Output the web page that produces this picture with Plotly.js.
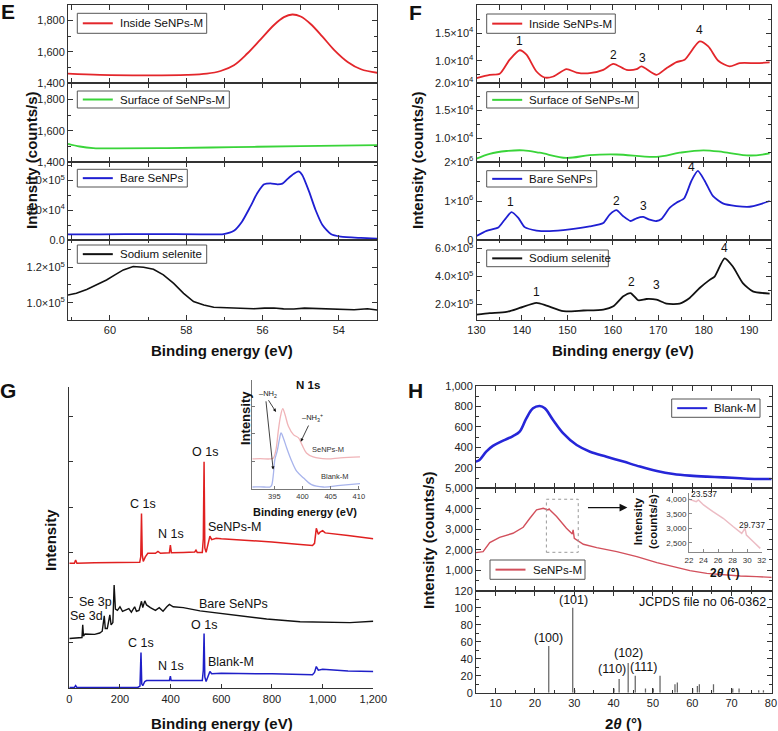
<!DOCTYPE html>
<html><head><meta charset="utf-8">
<script src="https://cdn.plot.ly/plotly-3.0.1.min.js"></script>
<style>html,body{margin:0;padding:0;background:#fff}#chart{width:778px;height:731px}</style>
</head><body><div id="chart"></div>
<script>
// ---------- Panel E (Se 3d) ----------
const eInsideX = [61.1,60.26,58.95,57.98,57.46,57.1,56.75,56.4,56.05,55.7,55.44,55.22,55.0,54.74,54.43,54.12,53.77,53.42,52.98];
const eInsideY = [1460,1452,1449,1452,1460,1477,1514,1589,1680,1772,1822,1839,1826,1778,1697,1611,1535,1488,1465];
const eSurfX = [61.1,60.79,60.44,59.82,58.51,56.75,55.0,52.98];
const eSurfY = [1516,1499,1489,1487,1489,1495,1502,1508];
const eBareX = [61.1,60.26,58.95,57.63,57.02,56.75,56.54,56.32,56.14,55.96,55.79,55.61,55.48,55.35,55.18,55.06,54.96,54.78,54.61,54.43,54.21,53.95,53.42,52.98];
const eBareY = [9500,9500,10000,9500,10000,15600,30700,55900,78200,93300,95000,93300,94400,102000,111000,115000,109000,81000,50300,25100,10000,5600,3400,2200];
const eSodX = [61.1,60.88,60.61,60.35,60.09,59.87,59.65,59.39,59.12,58.86,58.6,58.33,58.07,57.81,57.54,57.28,57.0,56.75,56.5,56.23,55.95,55.7,55.45,55.18,54.9,54.65,54.4,54.12,53.85,53.6,53.25,52.98];
const eSodY = [104300,105300,107500,110000,112800,115700,118500,120400,120000,118900,115700,110900,105300,100600,98700,97400,97200,97000,96800,96600,96900,97000,96500,96400,96900,96800,96300,96200,96500,96000,96600,95800];

// ---------- Panel F (Se 3p) ----------
const fInsideX = [130,132.9,135.1,137.3,139.5,141,143.2,145,146.9,149.8,152,154.9,157.9,160.1,163,165.2,166.3,169.6,171.8,174,175.8,179.1,181,183.2,185.7,187.9,191.6,194.5];
const fInsideY = [6870,7470,7650,10200,11900,11100,8070,6990,7170,8490,7890,7770,8370,9460,8370,8490,8980,7470,8670,9760,10200,13500,12600,10000,8980,9580,9580,9700];
const fSurfX = [130,132.9,136.6,140.3,143.9,149.8,154.9,160.8,169.6,174.7,179.9,184.3,190.1,194.5];
const fSurfY = [6310,7190,7690,7810,7380,6440,6940,7060,6630,7380,7810,7500,6880,7250];
const fBareX = [130,132.2,134.8,136.2,137.7,139.2,140.6,143.2,146.1,150.5,154.9,157.9,159.3,160.8,162.3,163.9,165.2,166.7,168.1,169.6,170.7,172.5,174,175.7,177.3,178.7,180.2,182,184.2,187.2,190.1,192.3,194.5];
const fBareY = [104000,235000,320000,520000,713000,565000,330000,243000,226000,270000,348000,435000,652000,765000,609000,487000,557000,591000,520000,487000,539000,826000,957000,1070000,1520000,1770000,1520000,1130000,939000,870000,852000,913000,1000000];
const fSodX = [130,132.9,136.6,139.5,143.2,145.4,149.1,153.5,157.9,160.1,162.3,163.9,165.6,167.4,169.6,171.8,174.7,176.9,179.1,181.3,182.4,184.6,186.4,188.6,190.8,194.5];
const fSodY = [129000,139000,148000,176000,212000,193000,153000,158000,165000,188000,259000,282000,231000,240000,235000,207000,207000,247000,318000,376000,400000,529000,471000,353000,294000,278000];
const fInsideLblX = [139.5,160.1,166.5,179.1], fInsideLblY = [13500,11000,10500,15500];
const fBareLblX = [137.5,160.8,166.7,177.3], fBareLblY = [980000,1000000,870000,1870000];
const fSodLblX = [143.2,164.1,169.6,184.6], fSodLblY = [287000,358000,339000,600000];
const peakNums = ['1','2','3','4'];

// ---------- Panel G (survey) ----------
const gRedX = [0,20,25,30,100,200,278,282,285,288,292,300,310,340,350,360,395,399,403,450,495,500,505,525,529,532,535,540,548,555,562,580,600,700,800,900,960,968,975,983,990,1000,1010,1100,1200];
const gRedY = [2.76,2.76,2.83,2.76,2.77,2.78,2.78,2.9,3.86,2.95,2.8,2.9,2.98,2.98,3.02,2.98,2.99,3.16,2.99,3.0,3.01,3.05,3.0,3.0,3.3,5.0,3.1,3.0,3.2,3.36,3.28,3.31,3.3,3.27,3.23,3.18,3.15,3.2,3.53,3.4,3.45,3.48,3.43,3.37,3.3];
const gBareX = [0,40,50,53,56,62,100,120,130,138,142,150,155,160,165,172,177,182,190,200,210,220,235,245,258,265,275,285,290,298,305,320,340,355,370,385,395,410,450,516,647,779,911,1042,1108,1200];
const gBareY = [1.10,1.11,1.12,1.40,1.15,1.20,1.19,1.22,1.26,1.60,1.32,1.32,1.45,1.62,1.40,1.45,2.28,1.75,1.72,1.80,1.70,1.72,1.76,1.68,1.80,1.70,1.72,1.92,1.78,1.93,1.84,1.78,1.72,1.78,1.70,1.80,1.85,1.80,1.78,1.71,1.62,1.53,1.47,1.45,1.45,1.48];
const gBlankX = [0,20,25,30,270,279,283,286,290,298,305,395,399,402,525,529,532,535,540,548,555,562,600,800,960,968,975,983,1000,1100,1200];
const gBlankY = [0.02,0.02,0.06,0.02,0.02,0.05,0.79,0.1,0.06,0.15,0.17,0.17,0.27,0.17,0.17,0.4,1.21,0.25,0.15,0.25,0.37,0.32,0.33,0.32,0.3,0.35,0.48,0.4,0.42,0.38,0.37];
// inset N 1s
const nRedX = [391.1,392.5,394.2,394.8,395.3,395.7,396.1,396.5,396.9,397.5,398.4,399.3,399.9,400.7,401.9,404.3,406.7,410.2];
const nRedY = [2.73,2.75,2.73,2.79,3.58,5.24,6.6,7.3,6.76,5.7,4.94,4.64,4.03,3.27,2.91,2.73,2.82,2.91];
const nBlueX = [391.1,392.5,394.2,394.5,394.8,395.1,395.5,395.9,396.2,396.6,397.2,398.1,399.0,400.2,401.6,403.7,406.7,410.2];
const nBlueY = [0.18,0.2,0.18,0.3,1.15,2.67,3.42,4.48,5.09,4.64,3.73,2.52,1.6,1.0,0.39,0.18,0.33,0.48];

// ---------- Panel H (XRD) ----------
const hBlankX = [4.9,5.9,7.6,9.3,11.9,14.4,16.1,17.8,19.5,21.2,22.5,24.6,27.2,30.6,34,38.2,42.5,46.7,51,55.2,59.4,63.7,67.9,72.2,76.4,80.2];
const hBlankY = [261,277,358,414,466,511,554,684,782,804,782,668,537,423,358,309,261,212,169,140,124,114,107,98,91,91];
const hSeX = [4.9,6.8,8.5,11,14.4,17,18.7,20.4,22.1,23.3,23.6,24.0,25.5,28,29.5,29.7,30,32.3,35.7,40.8,45.9,51,55.2,59.4,63.7,67.9,72.2,76.4,80.2];
const hSeY = [1858,1907,2347,2608,2804,3097,3537,3945,4026,3945,3990,3900,3619,3048,2771,2967,2559,2266,2103,1907,1663,1369,1174,978,848,766,717,685,652];
const hZoomX = [22,23.0,23.3,24.0,25.3,26.7,28.1,29.25,29.7,29.9,30.85,31.8];
const hZoomY = [3995,3915,3970,3800,3570,3345,3055,2830,3000,2770,2540,2315];
const jcpdsX = [23.5,29.6,30.1,40.1,41.4,43.7,45.5,48.1,50.1,51.8,55.6,56.2,60.1,61.3,61.8,65.4,70.3,71.9,76.9,78.1];
const jcpdsY = [55,100,3,5,16,35,20,5,5,20,10,12,5,8,10,10,5,5,3,3];
const hklLbl = ['(100)','(101)','(110)','(102)','(111)'];
const hklX = [23.5,29.7,39.7,43.9,47.6];
const hklY = [64.7,109,27.8,47,29.8];

// ---------- helpers ----------
const FONT = "Arial, 'Liberation Sans', sans-serif";
const W = 778, H = 731;
const dx = (a,b) => [a/W, b/W];
const dy = (top,bot) => [1-bot/H, 1-top/H];
const sup = (m,e) => m + '×10<sup>' + e + '</sup>';

const RED = '#e3262b', GREEN = '#39d439', BLUE = '#1f1fd2';

function ln(x,y,xa,ya,color,name,extra){
  return {type:'scatter',mode:'lines',x:x,y:y,xaxis:xa,yaxis:ya,
    line:Object.assign({color:color,width:1.8},extra||{}),name:name||'',showlegend:false,hoverinfo:'skip'};
}
const data = [
  ln(eInsideX,eInsideY,'x','y',RED,'Inside SeNPs-M',{shape:'spline'}),
  ln(eSurfX,eSurfY,'x','y2',GREEN,'Surface of SeNPs-M',{shape:'spline'}),
  ln(eBareX,eBareY,'x','y3',BLUE,'Bare SeNPs',{shape:'spline',smoothing:0.6}),
  ln(eSodX,eSodY,'x','y4','#111','Sodium selenite',{width:1.6}),
  ln(fInsideX,fInsideY,'x2','y5',RED,'Inside SeNPs-M',{shape:'spline',smoothing:0.7}),
  ln(fSurfX,fSurfY,'x2','y6',GREEN,'Surface of SeNPs-M',{shape:'spline'}),
  ln(fBareX,fBareY,'x2','y7',BLUE,'Bare SeNPs',{shape:'spline',smoothing:0.6}),
  ln(fSodX,fSodY,'x2','y8','#111','Sodium selenite',{shape:'spline',smoothing:0.6}),
  ln(gRedX,gRedY,'x3','y9','#e02020','SeNPs-M',{width:1.5}),
  ln(gBareX,gBareY,'x3','y9','#111','Bare SeNPs',{width:1.4}),
  ln(gBlankX,gBlankY,'x3','y9','#1f1fc8','Blank-M',{width:1.5}),
  ln(nRedX,nRedY,'x4','y10','#f0b4b8','SeNPs-M',{width:1.3,shape:'spline'}),
  ln(nBlueX,nBlueY,'x4','y10','#a8b4ec','Blank-M',{width:1.3,shape:'spline'}),
  ln(hBlankX,hBlankY,'x5','y11','#2626d8','Blank-M',{width:2.6,shape:'spline'}),
  ln(hSeX,hSeY,'x5','y12','#d2505c','SeNPs-M',{width:1.4}),
  ln(hZoomX,hZoomY,'x6','y14','#ecbcc4','SeNPs-M',{width:1.5}),
  {type:'bar',x:jcpdsX,y:jcpdsY,xaxis:'x5',yaxis:'y13',width:0.32,marker:{color:'#666',line:{width:0}},showlegend:false,hoverinfo:'skip'}
];

const tf = {family:FONT,size:11,color:'#222'};
const base = {showline:true,linecolor:'#333',linewidth:1,ticks:'inside',ticklen:5,tickcolor:'#333',tickwidth:1,
  showgrid:false,zeroline:false,tickfont:tf,fixedrange:true};
function ax(o){return Object.assign({},base,o);}
const rowE = [dy(5,83),dy(83,162),dy(162,240),dy(240,319.5)];
const rowH = [dy(386,488.3),dy(488.3,590.7),dy(590.7,692.7)];

const layout = {
  width:W,height:H,margin:{l:0,r:0,t:0,b:0},paper_bgcolor:'#fff',plot_bgcolor:'rgba(0,0,0,0)',
  font:{family:FONT,color:'#111'},showlegend:false,separators:'.,',
  // E
  xaxis:ax({domain:dx(68,377),range:[61.1,53.0],anchor:'y4',mirror:'allticks',dtick:2,tick0:0,
    minor:{dtick:1,tick0:0,ticks:'inside',ticklen:3,tickcolor:'#333'}}),
  yaxis:ax({domain:rowE[0],range:[1400,1900],anchor:'x',mirror:'ticks',tickmode:'array',tickvals:[1400,1600,1800],ticktext:['1,400','1,600','1,800'],
    minor:{tickvals:[1500,1700],ticks:'inside',ticklen:3}}),
  yaxis2:ax({domain:rowE[1],range:[1400,1905],anchor:'x',mirror:'ticks',tickmode:'array',tickvals:[1400,1600,1800],ticktext:['1,400','1,600','1,800'],
    minor:{tickvals:[1500,1700],ticks:'inside',ticklen:3}}),
  yaxis3:ax({domain:rowE[2],range:[0,130700],anchor:'x',mirror:'ticks',tickmode:'array',tickvals:[0,50000,100000],ticktext:['0.0',sup('5.0',4),sup('1.0',5)],
    minor:{tickvals:[25000,75000,125000],ticks:'inside',ticklen:3}}),
  yaxis4:ax({domain:rowE[3],range:[90500,135400],anchor:'x',mirror:'ticks',tickmode:'array',tickvals:[100000,120000],ticktext:[sup('1.0',5),sup('1.2',5)],
    minor:{tickvals:[110000,130000],ticks:'inside',ticklen:3}}),
  // F
  xaxis2:ax({domain:dx(476.5,771),range:[130,194.8],anchor:'y8',mirror:'allticks',dtick:10,tick0:0,
    minor:{dtick:5,tick0:0,ticks:'inside',ticklen:3,tickcolor:'#333'}}),
  yaxis5:ax({domain:rowE[0],range:[6000,20050],anchor:'x2',mirror:'ticks',tickmode:'array',tickvals:[10000,15000,20000],ticktext:[sup('1.0',4),sup('1.5',4),sup('2.0',4)],
    minor:{tickvals:[7500,12500,17500],ticks:'inside',ticklen:3}}),
  yaxis6:ax({domain:rowE[1],range:[5700,20000],anchor:'x2',mirror:'ticks',tickmode:'array',tickvals:[10000,15000,20000],ticktext:[sup('1.0',4),sup('1.5',4),sup('2.0',4)],
    minor:{tickvals:[7500,12500,17500],ticks:'inside',ticklen:3}}),
  yaxis7:ax({domain:rowE[2],range:[0,2000000],anchor:'x2',mirror:'ticks',tickmode:'array',tickvals:[0,1000000,2000000],ticktext:['0',sup('1',6),sup('2',6)],
    minor:{tickvals:[500000,1500000],ticks:'inside',ticklen:3}}),
  yaxis8:ax({domain:rowE[3],range:[94000,660000],anchor:'x2',mirror:'ticks',tickmode:'array',tickvals:[200000,400000,600000],ticktext:[sup('2.0',5),sup('4.0',5),sup('6.0',5)],
    minor:{tickvals:[100000,300000,500000],ticks:'inside',ticklen:3}}),
  // G
  xaxis3:ax({domain:dx(69.3,373.3),range:[0,1200],anchor:'y9',dtick:200,tick0:0,tickformat:',d',ticklen:4}),
  yaxis9:ax({domain:dy(387,688.3),range:[0,6.65],anchor:'x3',tickmode:'array',tickvals:[1,2,3,4,5,6],showticklabels:false,ticklen:4}),
  xaxis4:ax({domain:dx(252.3,360),range:[391.1,410.2],anchor:'y10',tickmode:'array',tickvals:[395,400,405,410],ticklen:3,
    tickfont:{family:FONT,size:7.5,color:'#333'},linecolor:'#777',tickcolor:'#777'}),
  yaxis10:ax({domain:dy(380,489),range:[0,9.9],anchor:'x4',tickmode:'array',tickvals:[2.5,5,7.5],showticklabels:false,ticklen:3,linecolor:'#777',tickcolor:'#777'}),
  // H
  xaxis5:ax({domain:dx(476,771.7),range:[5,80.2],anchor:'y13',mirror:'allticks',dtick:10,tick0:0,
    minor:{dtick:5,tick0:0,ticks:'inside',ticklen:3,tickcolor:'#333'}}),
  yaxis11:ax({domain:rowH[0],range:[0,1000],anchor:'x5',mirror:'ticks',tickmode:'array',tickvals:[200,400,600,800,1000],ticktext:['200','400','600','800','1,000'],
    minor:{tickvals:[100,300,500,700,900],ticks:'inside',ticklen:3}}),
  yaxis12:ax({domain:rowH[1],range:[0,5000],anchor:'x5',mirror:'ticks',tickmode:'array',tickvals:[1000,2000,3000,4000,5000],ticktext:['1,000','2,000','3,000','4,000','5,000'],
    minor:{tickvals:[500,1500,2500,3500,4500],ticks:'inside',ticklen:3}}),
  yaxis13:ax({domain:rowH[2],range:[0,120],anchor:'x5',mirror:'ticks',tickmode:'array',tickvals:[0,20,40,60,80,100,120],
    minor:{tickvals:[10,30,50,70,90,110],ticks:'inside',ticklen:3}}),
  xaxis6:ax({domain:dx(689,761.7),range:[22,32],anchor:'y14',dtick:2,tick0:0,ticklen:3,
    tickfont:{family:FONT,size:8,color:'#333'},linecolor:'#888',tickcolor:'#888'}),
  yaxis14:ax({domain:dy(493.3,552.3),range:[2180,4200],anchor:'x6',tickmode:'array',tickvals:[2500,3000,3500,4000],ticktext:['2,500','3,000','3,500','4,000'],ticklen:3,
    tickfont:{family:FONT,size:8,color:'#333'},linecolor:'#888',tickcolor:'#888'}),
  shapes:[
    {type:'rect',xref:'x5',yref:'y12',x0:22.9,x1:31.0,y0:1875,y1:4466,line:{color:'#999',width:1,dash:'dot'}}
  ],
  annotations:[]
};

const A = layout.annotations, S = layout.shapes;
function pa(text,xp,yp,size,opts){A.push(Object.assign({xref:'paper',yref:'paper',x:xp/W,y:1-yp/H,text:text,showarrow:false,
  font:{family:FONT,size:size,color:'#111'},xanchor:'center',yanchor:'middle'},opts||{}));}
function da(text,x,y,xr,yr,size,color){A.push({xref:xr,yref:yr,x:x,y:y,text:text,showarrow:false,
  font:{family:FONT,size:size,color:color||'#111'},xanchor:'center',yanchor:'middle'});}
function arrow(x,y,axv,ayv,xr,yr,w,sz){A.push({xref:xr,yref:yr,x:x,y:y,ax:axv,ay:ayv,axref:xr,ayref:yr,text:'',showarrow:true,
  arrowhead:2,arrowsize:sz||1,arrowwidth:w||1,arrowcolor:'#111'});}
// legend box: frame, line sample, label (pixel positions of the box)
function legBox(x0,x1,y0,y1,color,label){
  S.push({type:'rect',xref:'paper',yref:'paper',x0:x0/W,x1:x1/W,y0:1-y1/H,y1:1-y0/H,line:{color:'#555',width:1},fillcolor:'#fff',layer:'above'});
  const ym = 1-(y0+y1)/2/H;
  S.push({type:'line',xref:'paper',yref:'paper',x0:(x0+5.5)/W,x1:(x0+35.5)/W,y0:ym,y1:ym,line:{color:color,width:2},layer:'above'});
  A.push({xref:'paper',yref:'paper',x:(x0+40.5)/W,y:ym,text:label,showarrow:false,xanchor:'left',yanchor:'middle',
    font:{family:FONT,size:11.5,color:'#111'}});
}
legBox(77.3,206.7,13.3,33.3,RED,data[0].name);
legBox(77.3,229.3,91,108,GREEN,data[1].name);
legBox(77.3,187.3,169.3,187,BLUE,data[2].name);
legBox(77.3,206.7,245,263.3,'#111',data[3].name);
legBox(486.7,615.3,14,33.3,RED,data[4].name);
legBox(486.7,638.3,91.7,108,GREEN,data[5].name);
legBox(486.7,596.7,170.7,187,BLUE,data[6].name);
legBox(486.7,608.3,250,266.7,'#111',data[7].name);
legBox(671.7,760,399,417.3,'#2626d8',data[13].name);
legBox(490,585,560,579.3,'#d2505c',data[14].name);

// panel letters
pa('<b>E</b>',8,11,21); pa('<b>F</b>',415,12,21); pa('<b>G</b>',8,390,21); pa('<b>H</b>',416,390,21);
// axis titles
pa('<b>Binding energy (eV)</b>',222,350,15); pa('<b>Binding energy (eV)</b>',623,350,15);
pa('<b>Binding energy (eV)</b>',222,723,15); pa('<b>2<i>θ</i> (°)</b>',623,723,15);
pa('<b>Intensity (counts/s)</b>',31,160,15,{textangle:-90});
pa('<b>Intensity (counts/s)</b>',417,160,15,{textangle:-90});
pa('<b>Intensity</b>',50,540,15,{textangle:-90});
pa('<b>Intensity (counts/s)</b>',428,540,15,{textangle:-90});
// F peak numbers
for(let i=0;i<4;i++){
  da(peakNums[i],fInsideLblX[i],fInsideLblY[i],'x2','y5',12);
  da(peakNums[i],fBareLblX[i],fBareLblY[i],'x2','y7',12);
  da(peakNums[i],fSodLblX[i],fSodLblY[i],'x2','y8',12);
}
// G labels
[['O 1s',534,5.22],['C 1s',290,4.06],['N 1s',403,3.40],['SeNPs-M',651,3.55],['Se 3p',105,1.90],['Se 3d',68,1.60],
 ['Bare SeNPs',647,1.85],['O 1s',532,1.40],['C 1s',284,0.99],['N 1s',400,0.49],['Blank-M',637,0.59]]
 .forEach(l=>da(l[0],l[1],l[2],'x3','y9',12.5));
// G inset
pa('<b>N 1s</b>',308,385,11.5);
pa('<b>Intensity</b>',245,418,13,{textangle:-90});
pa('<b>Binding energy (eV)</b>',305,512,11);
da('–NH<sub>2</sub>',393.9,8.6,'x4','y10',7.5,'#222');
da('–NH<sub>3</sub><sup>+</sup>',401.8,6.5,'x4','y10',7.5,'#222');
da('SeNPs-M',404.6,3.6,'x4','y10',7.5,'#333');
da('Blank-M',405.8,1.1,'x4','y10',7.5,'#333');
arrow(395.3,7.0,393.8,8.2,'x4','y10',0.8,0.8);
arrow(394.8,1.76,393.5,8.1,'x4','y10',0.8,0.8);
arrow(399.7,4.3,401.2,5.9,'x4','y10',0.8,0.8);
// H labels
for(let i=0;i<hklLbl.length;i++) da(hklLbl[i],hklX[i],hklY[i],'x5','y13',12.5);
da('JCPDS file no 06-0362',62.7,107,'x5','y13',12.5);
arrow(43.5,4060,33.1,4060,'x5','y12',1.2,1.3);
da('23.537',24.1,4175,'x6','y14',8.5,'#222');
da('29.737',30.7,3115,'x6','y14',8.5,'#222');
pa('<b>Intensity<br>(counts/s)</b>',645,522,11.5,{textangle:-90});
pa('<b>2<i>θ</i> (°)</b>',725,573,12);

Plotly.newPlot('chart',data,layout,{staticPlot:true,displayModeBar:false});
</script></body></html>
